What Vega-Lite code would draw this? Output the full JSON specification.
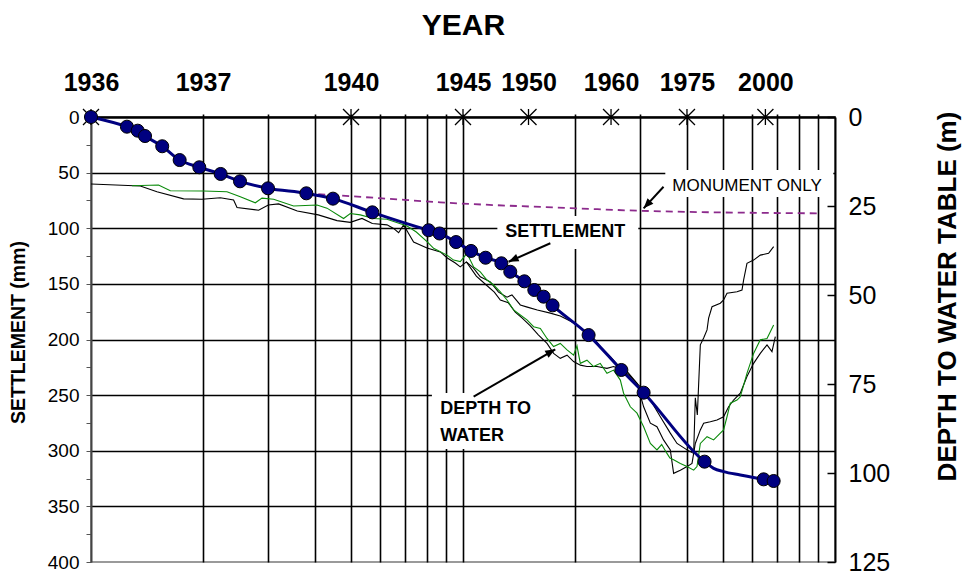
{
  "$schema": "https://vega.github.io/schema/vega-lite/v6.json",
  "width": 744,
  "height": 445,
  "autosize": "none",
  "padding": {"left": 91, "top": 117, "right": 128, "bottom": 13},
  "background": "white",
  "config": {"font": "Liberation Sans", "view": {"stroke": "#9a9a9a", "strokeWidth": 2}},
  "datasets": {
    "settlement": [
      {"t": 1, "mm": 0, "kind": "survey"},
      {"t": 1.249, "mm": 8.7, "kind": "survey"},
      {"t": 1.335, "mm": 12.3, "kind": "survey"},
      {"t": 1.397, "mm": 17.1, "kind": "survey"},
      {"t": 1.554, "mm": 26.3, "kind": "survey"},
      {"t": 1.731, "mm": 38.7, "kind": "survey"},
      {"t": 1.955, "mm": 45.2, "kind": "survey"},
      {"t": 2.231, "mm": 51.2, "kind": "survey"},
      {"t": 2.515, "mm": 57.8, "kind": "survey"},
      {"t": 2.991, "mm": 64.1, "kind": "survey"},
      {"t": 3.792, "mm": 68.6, "kind": "survey"},
      {"t": 4.472, "mm": 73.4, "kind": "survey"},
      {"t": 5.705, "mm": 85.7, "kind": "survey"},
      {"t": 8.08, "mm": 101.8, "kind": "survey"},
      {"t": 8.65, "mm": 104.7, "kind": "survey"},
      {"t": 9.58, "mm": 112.4, "kind": "survey"},
      {"t": 10.51, "mm": 120.4, "kind": "survey"},
      {"t": 11.5, "mm": 126.5, "kind": "survey"},
      {"t": 12.68, "mm": 131.5, "kind": "survey"},
      {"t": 13.4, "mm": 139.1, "kind": "survey"},
      {"t": 14.62, "mm": 147.7, "kind": "survey"},
      {"t": 15.55, "mm": 155.5, "kind": "survey"},
      {"t": 16.47, "mm": 161.5, "kind": "survey"},
      {"t": 17.41, "mm": 169.3, "kind": "survey"},
      {"t": 21.76, "mm": 196.0, "kind": "survey"},
      {"t": 26.65, "mm": 227.4, "kind": "survey"},
      {"t": 30.59, "mm": 247.8, "kind": "survey"},
      {"t": 44.6, "mm": 309.8, "kind": "survey"},
      {"t": 47.18, "mm": 315.8, "kind": "curve"},
      {"t": 50.18, "mm": 318.8, "kind": "curve"},
      {"t": 55.65, "mm": 321.8, "kind": "curve"},
      {"t": 64.3, "mm": 325.7, "kind": "survey"},
      {"t": 68.4, "mm": 327.2, "kind": "survey"}
    ],
    "monument": [
      {"t": 3.79, "mm": 68.6},
      {"t": 6.06, "mm": 73.1},
      {"t": 8.69, "mm": 76.7},
      {"t": 20.25, "mm": 82.1},
      {"t": 29.98, "mm": 84.3},
      {"t": 91.3, "mm": 86.6}
    ],
    "water": [
      {"series": "A", "t": 1.0, "m": 18.8}, {"series": "A", "t": 1.357, "m": 19.4}, {"series": "A", "t": 1.504, "m": 21.0},
      {"series": "A", "t": 1.774, "m": 23.0}, {"series": "A", "t": 1.988, "m": 23.1}, {"series": "A", "t": 2.227, "m": 22.7},
      {"series": "A", "t": 2.417, "m": 23.3}, {"series": "A", "t": 2.469, "m": 25.4}, {"series": "A", "t": 2.822, "m": 26.2},
      {"series": "A", "t": 2.997, "m": 24.7}, {"series": "A", "t": 3.194, "m": 24.4}, {"series": "A", "t": 3.586, "m": 26.4},
      {"series": "A", "t": 4.083, "m": 27.5}, {"series": "A", "t": 4.585, "m": 29.1}, {"series": "A", "t": 4.977, "m": 29.6},
      {"series": "A", "t": 5.352, "m": 28.5}, {"series": "A", "t": 5.705, "m": 29.9}, {"series": "A", "t": 6.247, "m": 30.3},
      {"series": "A", "t": 6.507, "m": 31.3}, {"series": "A", "t": 6.713, "m": 32.5}, {"series": "A", "t": 6.924, "m": 30.3},
      {"series": "A", "t": 7.128, "m": 32.6}, {"series": "A", "t": 7.366, "m": 35.1}, {"series": "A", "t": 8.003, "m": 36.8},
      {"series": "A", "t": 8.69, "m": 37.9}, {"series": "A", "t": 9.075, "m": 39.6}, {"series": "A", "t": 9.535, "m": 41.0},
      {"series": "A", "t": 9.833, "m": 42.1}, {"series": "A", "t": 10.21, "m": 40.7}, {"series": "A", "t": 10.66, "m": 42.4},
      {"series": "A", "t": 11.13, "m": 44.9}, {"series": "A", "t": 11.84, "m": 46.3}, {"series": "A", "t": 12.46, "m": 49.2},
      {"series": "A", "t": 13.13, "m": 50.6}, {"series": "A", "t": 13.54, "m": 50.0}, {"series": "A", "t": 14.26, "m": 52.8},
      {"series": "A", "t": 14.89, "m": 53.4}, {"series": "A", "t": 15.84, "m": 54.2}, {"series": "A", "t": 17.17, "m": 55.1},
      {"series": "A", "t": 18.26, "m": 55.9}, {"series": "A", "t": 19.83, "m": 57.8}, {"series": "A", "t": 21.1, "m": 59.8},
      {"series": "A", "t": 22.44, "m": 62.1}, {"series": "A", "t": 23.39, "m": 64.5}, {"series": "A", "t": 24.89, "m": 67.3},
      {"series": "A", "t": 26.48, "m": 70.5}, {"series": "A", "t": 28.17, "m": 72.9}, {"series": "A", "t": 29.97, "m": 75.8},
      {"series": "A", "t": 31.89, "m": 79.5}, {"series": "A", "t": 33.92, "m": 84.2}, {"series": "A", "t": 36.08, "m": 88.8},
      {"series": "A", "t": 37.61, "m": 91.7}, {"series": "A", "t": 40.02, "m": 93.5}, {"series": "A", "t": 41.69, "m": 94.5},
      {"series": "A", "t": 42.12, "m": 78.9}, {"series": "A", "t": 42.65, "m": 83.7}, {"series": "A", "t": 43.45, "m": 64.0},
      {"series": "A", "t": 44.35, "m": 62.1}, {"series": "A", "t": 45.29, "m": 59.8}, {"series": "A", "t": 45.74, "m": 56.5},
      {"series": "A", "t": 46.71, "m": 53.3}, {"series": "A", "t": 49.17, "m": 52.3}, {"series": "A", "t": 50.18, "m": 51.4},
      {"series": "A", "t": 51.25, "m": 49.5}, {"series": "A", "t": 54.53, "m": 49.1}, {"series": "A", "t": 56.23, "m": 48.6},
      {"series": "A", "t": 56.79, "m": 45.8}, {"series": "A", "t": 57.99, "m": 41.1}, {"series": "A", "t": 60.42, "m": 40.2},
      {"series": "A", "t": 62.98, "m": 38.8}, {"series": "A", "t": 66.3, "m": 38.3}, {"series": "A", "t": 68.4, "m": 36.4},

      {"series": "B", "t": 10.21, "m": 40.7}, {"series": "B", "t": 10.86, "m": 44.7}, {"series": "B", "t": 11.55, "m": 47.2},
      {"series": "B", "t": 12.14, "m": 49.2}, {"series": "B", "t": 12.6, "m": 51.4}, {"series": "B", "t": 13.24, "m": 52.2},
      {"series": "B", "t": 13.82, "m": 54.8}, {"series": "B", "t": 14.43, "m": 56.5}, {"series": "B", "t": 15.17, "m": 58.7},
      {"series": "B", "t": 15.94, "m": 61.2}, {"series": "B", "t": 16.82, "m": 63.6}, {"series": "B", "t": 17.52, "m": 66.4},
      {"series": "B", "t": 18.26, "m": 67.8}, {"series": "B", "t": 19.04, "m": 66.9}, {"series": "B", "t": 19.83, "m": 68.7},
      {"series": "B", "t": 20.67, "m": 69.7}, {"series": "B", "t": 21.54, "m": 70.1}, {"series": "B", "t": 22.92, "m": 70.1},
      {"series": "B", "t": 24.38, "m": 70.6}, {"series": "B", "t": 25.4, "m": 70.1}, {"series": "B", "t": 27.61, "m": 71.5},
      {"series": "B", "t": 29.36, "m": 74.8}, {"series": "B", "t": 30.59, "m": 81.4}, {"series": "B", "t": 31.89, "m": 86.0},
      {"series": "B", "t": 33.22, "m": 87.0}, {"series": "B", "t": 34.6, "m": 90.7}, {"series": "B", "t": 36.08, "m": 93.5},
      {"series": "B", "t": 36.83, "m": 100.1}, {"series": "B", "t": 38.39, "m": 99.2}, {"series": "B", "t": 40.02, "m": 98.2},
      {"series": "B", "t": 41.27, "m": 97.3}, {"series": "B", "t": 42.12, "m": 91.7}, {"series": "B", "t": 43.45, "m": 87.9},
      {"series": "B", "t": 44.35, "m": 86.0}, {"series": "B", "t": 46.22, "m": 85.6}, {"series": "B", "t": 48.17, "m": 85.1},
      {"series": "B", "t": 50.18, "m": 84.2}, {"series": "B", "t": 51.76, "m": 81.4}, {"series": "B", "t": 53.38, "m": 79.5},
      {"series": "B", "t": 55.65, "m": 77.6}, {"series": "B", "t": 57.99, "m": 72.9}, {"series": "B", "t": 60.42, "m": 69.2},
      {"series": "B", "t": 62.98, "m": 66.4}, {"series": "B", "t": 65.65, "m": 64.0}, {"series": "B", "t": 67.7, "m": 65.9},
      {"series": "B", "t": 69.12, "m": 61.7},

      {"series": "G", "t": 1.289, "m": 19.3}, {"series": "G", "t": 1.519, "m": 19.1}, {"series": "G", "t": 1.634, "m": 20.7},
      {"series": "G", "t": 2.007, "m": 20.8}, {"series": "G", "t": 2.32, "m": 21.0}, {"series": "G", "t": 2.52, "m": 22.4},
      {"series": "G", "t": 2.765, "m": 24.1}, {"series": "G", "t": 2.882, "m": 22.8}, {"series": "G", "t": 3.097, "m": 23.1},
      {"series": "G", "t": 3.504, "m": 25.0}, {"series": "G", "t": 4.051, "m": 24.7}, {"series": "G", "t": 4.309, "m": 25.6},
      {"series": "G", "t": 4.775, "m": 28.5}, {"series": "G", "t": 4.977, "m": 27.1}, {"series": "G", "t": 5.295, "m": 27.5},
      {"series": "G", "t": 5.751, "m": 28.5}, {"series": "G", "t": 6.247, "m": 28.7}, {"series": "G", "t": 7.072, "m": 30.6},
      {"series": "G", "t": 7.49, "m": 32.3}, {"series": "G", "t": 8.003, "m": 35.0}, {"series": "G", "t": 8.337, "m": 36.9},
      {"series": "G", "t": 9.057, "m": 38.8}, {"series": "G", "t": 9.434, "m": 40.2}, {"series": "G", "t": 9.833, "m": 40.6},
      {"series": "G", "t": 10.25, "m": 38.3}, {"series": "G", "t": 10.68, "m": 42.1}, {"series": "G", "t": 11.13, "m": 43.5},
      {"series": "G", "t": 11.6, "m": 45.8}, {"series": "G", "t": 12.09, "m": 47.2}, {"series": "G", "t": 12.6, "m": 49.1},
      {"series": "G", "t": 13.13, "m": 51.4}, {"series": "G", "t": 13.68, "m": 54.2}, {"series": "G", "t": 14.26, "m": 55.6},
      {"series": "G", "t": 14.86, "m": 57.0}, {"series": "G", "t": 15.48, "m": 58.9}, {"series": "G", "t": 16.14, "m": 59.4},
      {"series": "G", "t": 16.82, "m": 62.2}, {"series": "G", "t": 17.52, "m": 64.5}, {"series": "G", "t": 18.26, "m": 63.6},
      {"series": "G", "t": 19.04, "m": 65.4}, {"series": "G", "t": 19.83, "m": 66.9}, {"series": "G", "t": 20.25, "m": 64.3},
      {"series": "G", "t": 20.67, "m": 69.2}, {"series": "G", "t": 21.54, "m": 68.3}, {"series": "G", "t": 22.44, "m": 70.1},
      {"series": "G", "t": 23.39, "m": 69.2}, {"series": "G", "t": 24.38, "m": 72.0}, {"series": "G", "t": 25.4, "m": 71.1},
      {"series": "G", "t": 26.48, "m": 73.9}, {"series": "G", "t": 27.02, "m": 77.6}, {"series": "G", "t": 28.17, "m": 81.4},
      {"series": "G", "t": 29.36, "m": 83.2}, {"series": "G", "t": 30.59, "m": 87.0}, {"series": "G", "t": 31.89, "m": 91.7},
      {"series": "G", "t": 33.22, "m": 93.5}, {"series": "G", "t": 34.2, "m": 92.0}, {"series": "G", "t": 35.34, "m": 94.5},
      {"series": "G", "t": 36.0, "m": 95.8}, {"series": "G", "t": 36.83, "m": 96.3}, {"series": "G", "t": 38.39, "m": 97.3},
      {"series": "G", "t": 40.02, "m": 98.2}, {"series": "G", "t": 41.69, "m": 99.2}, {"series": "G", "t": 42.56, "m": 98.2},
      {"series": "G", "t": 43.45, "m": 91.7}, {"series": "G", "t": 45.29, "m": 89.8}, {"series": "G", "t": 47.18, "m": 90.7},
      {"series": "G", "t": 49.17, "m": 88.8}, {"series": "G", "t": 50.18, "m": 87.9}, {"series": "G", "t": 51.25, "m": 84.2},
      {"series": "G", "t": 52.3, "m": 80.4}, {"series": "G", "t": 54.53, "m": 79.5}, {"series": "G", "t": 55.65, "m": 78.6},
      {"series": "G", "t": 57.99, "m": 72.0}, {"series": "G", "t": 60.42, "m": 66.4}, {"series": "G", "t": 62.98, "m": 62.6},
      {"series": "G", "t": 65.65, "m": 62.2}, {"series": "G", "t": 68.4, "m": 58.4}
    ],
    "stars": [
      {"t": 1, "mm": 0}, {"t": 5, "mm": 0}, {"t": 10, "mm": 0}, {"t": 15, "mm": 0},
      {"t": 25, "mm": 0}, {"t": 40, "mm": 0}, {"t": 65, "mm": 0}
    ],
    "boxes": [
      {"t": 34.98, "t2": 98.95, "mm": 47.6, "mm2": 71.9},
      {"t": 12.37, "t2": 29.59, "mm": 89.0, "mm2": 118.7},
      {"t": 8.25, "t2": 19.67, "mm": 248.1, "mm2": 298.4}
    ],
    "arrows": [
      {"name": "MONUMENT", "t": 30.59, "mm": 82.1, "t2": 34.6, "mm2": 62.7},
      {"name": "SETTLEMENT", "t": 13.26, "mm": 130.1, "t2": 17.17, "mm2": 113.5},
      {"name": "DEPTH", "t": 17.7, "mm": 208.8, "t2": 10.68, "mm2": 251.4}
    ],
    "labels": [
      {"label": "MONUMENT ONLY", "t": 36.53, "mm": 62.0},
      {"label": "SETTLEMENT", "t": 12.99, "mm": 103.7},
      {"label": "DEPTH TO", "t": 8.69, "mm": 262.9},
      {"label": "WATER", "t": 8.69, "mm": 286.6}
    ]
  },
  "encoding": {
    "x": {
      "field": "t",
      "type": "quantitative",
      "scale": {"type": "log", "domain": [1, 100], "nice": false},
      "axis": {
        "orient": "top",
        "title": "YEAR",
        "values": [1, 2, 3, 4, 5, 6, 7, 8, 9, 10, 15, 20, 25, 30, 40, 50, 60, 65, 70, 80, 90],
        "labelExpr": "indexof([1,2,5,10,15,25,40,65], datum.value) >= 0 ? '' + (datum.value + 1935) : ''",
        "labelFontSize": 25,
        "labelFontWeight": "bold",
        "labelColor": "black",
        "labelPadding": 24,
        "labelFlush": false,
        "labelOverlap": false,
        "labelBaseline": "alphabetic",
        "tickSize": 3,
        "tickWidth": 1.6,
        "tickColor": {"condition": {"test": "indexof([1,15,25,65], datum.value) >= 0", "value": "transparent"}, "value": "black"},
        "grid": true,
        "gridColor": {"condition": {"test": "indexof([1,15,25,65], datum.value) >= 0", "value": "transparent"}, "value": "black"},
        "gridWidth": 1.6,
        "gridOpacity": 1,
        "domainColor": "black",
        "domainWidth": 2.5,
        "titleFontSize": 30,
        "titleFontWeight": "bold",
        "titleColor": "black",
        "titleX": 372,
        "titleY": -92,
        "titleAlign": "center",
        "titleBaseline": "middle"
      }
    }
  },
  "resolve": {"scale": {"y": "independent"}},
  "layer": [
    {
      "encoding": {
        "y": {
          "field": "mm",
          "type": "quantitative",
          "scale": {"domain": [0, 400], "reverse": true, "nice": false},
          "axis": {
            "orient": "left",
            "title": "SETTLEMENT  (mm)",
            "values": [0, 25, 50, 75, 100, 125, 150, 175, 200, 225, 250, 275, 300, 325, 350, 375, 400],
            "labelExpr": "datum.value % 50 == 0 ? datum.label : ''",
            "labelFontSize": 19,
            "labelColor": "black",
            "labelPadding": 7,
            "tickSize": 5,
            "tickColor": "#555555",
            "grid": true,
            "gridColor": {"condition": {"test": "datum.value % 50 != 0 || datum.value == 0 || datum.value == 400", "value": "transparent"}, "value": "black"},
            "gridWidth": 1.6,
            "gridOpacity": 1,
            "domainColor": "#444444",
            "domainWidth": 2,
            "titleFontSize": 19.5,
            "titleFontWeight": "bold",
            "titleColor": "black",
            "titleAngle": 270,
            "titleX": -73,
            "titleY": 215,
            "titleAlign": "center",
            "titleBaseline": "middle"
          }
        }
      },
      "layer": [
        {
          "data": {"name": "boxes"},
          "mark": {"type": "rect", "color": "white"},
          "encoding": {"x2": {"field": "t2"}, "y2": {"field": "mm2"}}
        },
        {
          "data": {"name": "stars"},
          "mark": {"type": "point", "shape": "M-1,-1L1,1M1,-1L-1,1M0,-1L0,1", "size": 256, "filled": false, "color": "black", "strokeWidth": 1.3, "opacity": 1}
        }
      ]
    },
    {
      "data": {"name": "water"},
      "mark": {"type": "line", "strokeWidth": 1.1},
      "encoding": {
        "y": {
          "field": "m",
          "type": "quantitative",
          "scale": {"domain": [0, 125], "reverse": true, "nice": false},
          "axis": {
            "orient": "right",
            "title": "DEPTH TO WATER TABLE  (m)",
            "values": [0, 25, 50, 75, 100, 125],
            "labelFontSize": 25,
            "labelColor": "black",
            "tickSize": -8,
            "labelPadding": 21,
            "tickColor": "black",
            "tickWidth": 1.5,
            "grid": false,
            "domainColor": "black",
            "domainWidth": 2,
            "titleFontSize": 26,
            "titleFontWeight": "bold",
            "titleColor": "black",
            "titleAngle": 270,
            "titleX": 112,
            "titleY": 179,
            "titleAlign": "center",
            "titleBaseline": "middle"
          }
        },
        "color": {"field": "series", "type": "nominal", "scale": {"domain": ["A", "B", "G"], "range": ["#000000", "#000000", "#0a8a0a"]}, "legend": null}
      }
    },
    {
      "encoding": {
        "y": {"field": "mm", "type": "quantitative", "scale": {"domain": [0, 400], "reverse": true, "nice": false}, "axis": null}
      },
      "layer": [
        {
          "data": {"name": "monument"},
          "mark": {"type": "line", "color": "#8c2a8c", "strokeWidth": 1.8, "strokeDash": [7, 5], "interpolate": "monotone"}
        },
        {
          "data": {"name": "settlement"},
          "mark": {"type": "line", "color": "#000080", "strokeWidth": 3, "interpolate": "monotone"}
        },
        {
          "data": {"name": "settlement"},
          "transform": [{"filter": "datum.kind == 'survey'"}],
          "mark": {"type": "point", "shape": "circle", "filled": true, "fill": "#000080", "stroke": "black", "strokeWidth": 1, "size": 170, "opacity": 1}
        },
        {
          "data": {"name": "arrows"},
          "mark": {"type": "rule", "color": "black", "strokeWidth": 2},
          "encoding": {"x2": {"field": "t2"}, "y2": {"field": "mm2"}}
        },
        {
          "data": {"name": "arrows"},
          "transform": [{"filter": "datum.name == 'MONUMENT'"}],
          "mark": {"type": "point", "shape": "M0,0L0.8,2L-0.8,2Z", "size": 100, "filled": true, "color": "black", "opacity": 1, "angle": 223}
        },
        {
          "data": {"name": "arrows"},
          "transform": [{"filter": "datum.name == 'SETTLEMENT'"}],
          "mark": {"type": "point", "shape": "M0,0L0.8,2L-0.8,2Z", "size": 100, "filled": true, "color": "black", "opacity": 1, "angle": 246}
        },
        {
          "data": {"name": "arrows"},
          "transform": [{"filter": "datum.name == 'DEPTH'"}],
          "mark": {"type": "point", "shape": "M0,0L0.8,2L-0.8,2Z", "size": 100, "filled": true, "color": "black", "opacity": 1, "angle": 60}
        },
        {
          "data": {"name": "labels"},
          "transform": [{"filter": "datum.label == 'MONUMENT ONLY'"}],
          "mark": {"type": "text", "align": "left", "baseline": "middle", "fontSize": 17, "color": "black"},
          "encoding": {"text": {"field": "label"}}
        },
        {
          "data": {"name": "labels"},
          "transform": [{"filter": "datum.label != 'MONUMENT ONLY'"}],
          "mark": {"type": "text", "align": "left", "baseline": "middle", "fontSize": 18, "fontWeight": "bold", "color": "black"},
          "encoding": {"text": {"field": "label"}}
        }
      ]
    }
  ]
}
